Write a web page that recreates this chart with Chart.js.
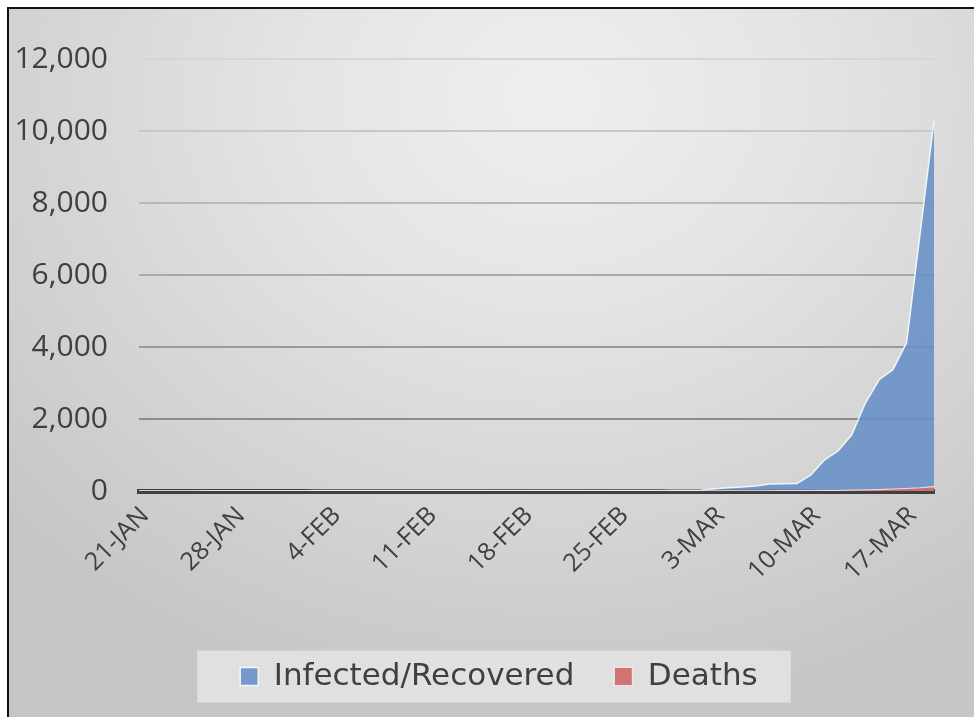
<!DOCTYPE html>
<html>
<head>
<meta charset="utf-8">
<script src="https://cdn.jsdelivr.net/npm/chart.js@4/dist/chart.umd.min.js"></script>
<style>
  html, body { margin: 0; padding: 0; width: 974px; height: 717px; overflow: hidden; background: #ffffff; }
  #frame { position: absolute; left: 7px; top: 7px; width: 990px; height: 730px;
    border: 2px solid #111; box-sizing: border-box;
    background: radial-gradient(ellipse 75% 85% at 55% 12%, #efefef 0%, #e4e4e4 35%, #d4d4d4 70%, #c6c6c6 100%); }
  #wrap { position: absolute; left: 0; top: 0; width: 974px; height: 717px; }
</style>
</head>
<body>
<div id="frame"></div>
<div id="wrap"><canvas id="c" width="974" height="717"></canvas></div>
<script>
const dates = [
  "21-Jan","22-Jan","23-Jan","24-Jan","25-Jan","26-Jan","27-Jan","28-Jan","29-Jan","30-Jan","31-Jan",
  "1-Feb","2-Feb","3-Feb","4-Feb","5-Feb","6-Feb","7-Feb","8-Feb","9-Feb","10-Feb","11-Feb","12-Feb","13-Feb","14-Feb",
  "15-Feb","16-Feb","17-Feb","18-Feb","19-Feb","20-Feb","21-Feb","22-Feb","23-Feb","24-Feb","25-Feb","26-Feb","27-Feb","28-Feb","29-Feb",
  "1-Mar","2-Mar","3-Mar","4-Mar","5-Mar","6-Mar","7-Mar","8-Mar","9-Mar","10-Mar","11-Mar","12-Mar","13-Mar","14-Mar",
  "15-Mar","16-Mar","17-Mar","18-Mar","19-Mar"
];
const infectedRecovered = [
  1,1,1,2,2,5,5,5,5,6,7,
  8,8,11,11,12,12,12,12,12,12,13,13,14,14,15,15,15,15,15,15,15,15,15,15,15,15,16,16,18,
  20,30,60,90,110,140,195,200,205,440,860,1110,1560,2450,3090,3370,4120,7200,10270
];
const deaths = [
  0,0,0,0,0,0,0,0,0,0,0,
  0,0,0,0,0,0,0,0,0,0,0,0,0,0,0,0,0,0,0,0,0,0,0,0,0,0,0,0,0,
  1,2,3,4,5,6,7,8,10,12,15,20,25,30,40,55,70,90,120
];
const yTicks = [0, 2000, 4000, 6000, 8000, 10000, 12000];
const gridShades = { 2000: '#8c8c8c', 4000: '#9a9a9a', 6000: '#a9a9a9', 8000: '#b9b9b9', 10000: '#c8c8c8', 12000: '#d6d6d6' };

const FONT = "'Open Sans', 'Liberation Sans', sans-serif";
const LFONT = "'DejaVu Sans', 'Open Sans', sans-serif";
const TEXT = '#404040';

const legendShift = {
  id: 'legendShift',
  afterLayout(chart) {
    const lg = chart.legend;
    if (!lg) return;
    lg.left += 32;
    lg.right += 32;
  }
};

const legendBg = {
  id: 'legendBg',
  beforeDraw(chart) {
    const lg = chart.legend;
    if (!lg || !lg.legendHitBoxes || !lg.legendHitBoxes.length) return;
    const hb = lg.legendHitBoxes;
    const x0 = hb[0].left - 43;
    const x1 = hb[hb.length - 1].left + hb[hb.length - 1].width + 33;
    const cy = hb[0].top + hb[0].height / 2;
    const ctx = chart.ctx;
    ctx.save();
    ctx.fillStyle = 'rgba(232,232,232,0.75)';
    ctx.fillRect(x0, cy - 26, x1 - x0, 52);
    ctx.restore();
  }
};

new Chart(document.getElementById('c'), {
  type: 'line',
  data: {
    labels: dates,
    datasets: [
      { label: 'Infected/Recovered', data: infectedRecovered, fill: 'origin',
        backgroundColor: 'rgba(102,144,198,0.88)', borderColor: 'rgba(255,255,255,0.85)', borderWidth: 1.5,
        pointRadius: 0, tension: 0, order: 2 },
      { label: 'Deaths', data: deaths, fill: 'origin',
        backgroundColor: 'rgba(205,110,108,0.95)', borderColor: 'rgba(255,235,235,0.85)', borderWidth: 1.2,
        pointRadius: 0, tension: 0, order: 1 }
    ]
  },
  options: {
    responsive: false,
    animation: false,
    layout: { padding: { left: 0, right: 40, top: 59, bottom: 15 } },
    plugins: {
      legend: {
        position: 'bottom',
        labels: {
          font: { family: LFONT, size: 31 }, color: TEXT,
          boxWidth: 18, boxHeight: 18, padding: 40,
          sort: (a, b) => a.datasetIndex - b.datasetIndex
        }
      },
      tooltip: { enabled: false }
    },
    scales: {
      x: {
        offset: false,
        z: 1,
        grid: { display: false },
        border: { display: true, color: '#404040', width: 5 },
        ticks: {
          autoSkip: false, maxRotation: 45, minRotation: 45, padding: 2, labelOffset: 6,
          font: { family: FONT, size: 25 }, color: TEXT,
          callback: function (v, i) { return i % 7 === 0 ? dates[i].toUpperCase() : ''; }
        },
        afterFit: (s) => { s.height = 130; }
      },
      y: {
        min: 0, max: 12000,
        afterBuildTicks: (s) => { s.ticks = yTicks.map(v => ({ value: v })); },
        grid: {
          drawTicks: false,
          color: (ctx) => gridShades[ctx.tick.value] || 'rgba(0,0,0,0)',
          lineWidth: 2
        },
        border: { display: false },
        ticks: {
          padding: 31,
          font: { family: FONT, size: 30 }, color: TEXT,
          callback: (v) => v.toLocaleString('en-US')
        },
        afterFit: (s) => { s.width = 139; }
      }
    }
  },
  plugins: [legendShift, legendBg]
});
</script>
</body>
</html>
